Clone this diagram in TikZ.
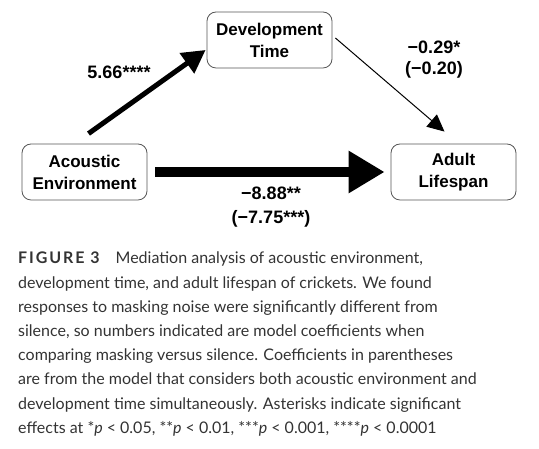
\documentclass[tikz,border=0pt]{standalone}
\usepackage{fontspec}
\setmainfont{Lato}
\newfontfamily\lblfont{Liberation Sans}
\usetikzlibrary{arrows.meta,positioning}
\definecolor{captiongray}{HTML}{333333}
\definecolor{boxgray}{HTML}{555555}

\begin{document}
\begin{tikzpicture}[
    x=1pt, y=1pt,
    font=\lblfont\bfseries\fontsize{17}{22}\selectfont,
    var/.style={draw=boxgray, rounded corners=9pt, align=center, minimum width=125pt, minimum height=56pt, line width=0.8pt, inner sep=2pt},
    coef/.style={align=center, inner sep=0pt, font=\lblfont\bfseries\fontsize{18}{21}\selectfont},
    bigarrow/.style={-{Triangle[length=36pt,width=40pt]}, line width=10pt},
    midarrow/.style={-{Triangle[length=23pt,width=24pt]}, line width=5pt},
    thinarrow/.style={-{Triangle[length=17pt,width=16pt]}, line width=1pt}
]
    \useasboundingbox (0,0) rectangle (539,449);

    \node[var] (dev) at (269.5,409) {Development\\Time};
    \node[var] (env) at (84.5,277) {Acoustic\\Environment};
    \node[var] (life) at (453.5,277) {Adult\\Lifespan};

    \draw[midarrow] ([xshift=4pt,yshift=10pt]env.north) -- ([xshift=-1pt,yshift=-10pt]dev.west);
    \draw[thinarrow] ([xshift=3pt,yshift=2pt]dev.east) -- ([xshift=-9pt,yshift=12pt]life.north);
    \draw[bigarrow, shorten <=8pt, shorten >=6pt] (env) -- (life);

    \node[coef] (a) at (119,377) {5.66****};
    \node[coef] (b) at (434,389) {−0.29*\\(−0.20)};
    \node[coef] (c) at (271,241.5) {−8.88**\\[3pt](−7.75***)};

    % caption
    \node[anchor=north west, align=left, inner sep=0pt, text=captiongray,
          font=\fontsize{16}{24.2}\selectfont] (cap) at (18,197) {%
        {\bfseries\addfontfeatures{LetterSpace=12}FIGURE 3}\quad Mediation analysis of acoustic environment,\\
        development time, and adult lifespan of crickets. We found\\
        responses to masking noise were significantly different from\\
        silence, so numbers indicated are model coefficients when\\
        comparing masking versus silence. Coefficients in parentheses\\
        are from the model that considers both acoustic environment and\\
        development time simultaneously. Asterisks indicate significant\\
        effects at *\textit{p} < 0.05, **\textit{p} < 0.01, ***\textit{p} < 0.001, ****\textit{p} < 0.0001};
\end{tikzpicture}
\end{document}
